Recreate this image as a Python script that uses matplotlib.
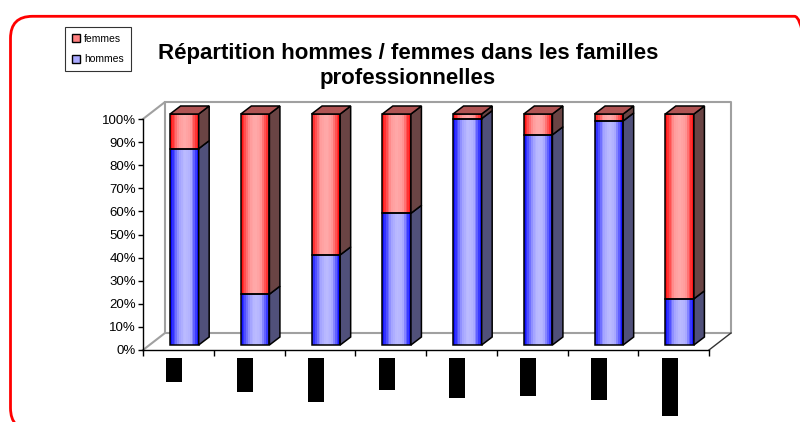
import matplotlib
matplotlib.use("Agg")
import matplotlib.pyplot as plt
import numpy as np
from matplotlib.patches import Polygon, Patch, FancyBboxPatch
from matplotlib.colors import LinearSegmentedColormap
from matplotlib.transforms import IdentityTransform, blended_transform_factory

plt.rcParams["font.family"] = ["Liberation Sans", "DejaVu Sans"]

# data (percent per professional family, labels are blacked out in the source)
hommes = [85, 22, 39, 57, 98, 91, 97, 20]
femmes = [15, 78, 61, 43, 2, 9, 3, 80]
label_px = [24, 34, 44, 32, 40, 38, 42, 58]  # length of the hidden labels
yticks = [0, 10, 20, 30, 40, 50, 60, 70, 80, 90, 100]
title_1 = "Répartition hommes / femmes dans les familles"
title_2 = "professionnelles"

W, H = 800, 422
fig = plt.figure(figsize=(W / 100, H / 100), dpi=100)

ax_l, ax_b, ax_w, ax_h = 143, 350, 566, 231  # pixels (bottom from top)
ax = fig.add_axes([ax_l / W, (H - ax_b) / H, ax_w / W, ax_h / H])
n = len(hommes)
ax.set_xlim(0, n)
ax.set_ylim(0, 1)

px = n / ax_w   # one pixel in x data units
py = 1 / ax_h   # one pixel in y data units

# 3D box: walls and floor
wall_dx, wall_dy = 22 * px, 17 * py
gray = "#a0a0a0"
ax.plot([0, wall_dx, wall_dx, n + wall_dx, n + wall_dx, wall_dx],
        [1, 1 + wall_dy, wall_dy, wall_dy, 1 + wall_dy, 1 + wall_dy],
        color=gray, lw=1.5, clip_on=False, zorder=0)
ax.plot([0, wall_dx], [0, wall_dy], color=gray, lw=1.5, clip_on=False, zorder=0)
ax.plot([n, n + wall_dx], [0, wall_dy], color="#333333", lw=1, clip_on=False, zorder=0)

# bar geometry
bar_w = 28.6 * px
off_x, off_y = 6 * px, 5 * py
dep_x, dep_y = 10.5 * px, 8 * py
n_strips = 16

blue_cmap = LinearSegmentedColormap.from_list(
    "b", [(0, "#1414ff"), (0.12, "#4a4aff"), (0.3, "#a0a0ff"), (0.5, "#bcbcff"),
          (0.72, "#b0b0ff"), (0.86, "#6464ff"), (1, "#1414ff")])
red_cmap = LinearSegmentedColormap.from_list(
    "r", [(0, "#ff1414"), (0.12, "#ff4a4a"), (0.3, "#ff9a9a"), (0.5, "#ffaaaa"),
          (0.72, "#ff9a9a"), (0.86, "#ff5555"), (1, "#ff1414")])

series = [(hommes, blue_cmap, "#50507a"), (femmes, red_cmap, "#6a4444")]

for i in range(n):
    x0 = i + 0.5 - bar_w / 2 + off_x
    x1 = x0 + bar_w
    bottom = 0.0
    for vals, cmap, side_col in series:
        h = vals[i] / 100
        y0 = bottom + off_y
        y1 = y0 + h
        sw = bar_w / n_strips
        xs = x0 + sw * (np.arange(n_strips) + 0.5)
        cols = [cmap(k / (n_strips - 1)) for k in range(n_strips)]
        ax.bar(xs, h, width=sw * 1.02, bottom=y0, color=cols, lw=0,
               clip_on=False, zorder=3)
        ax.bar(x0 + bar_w / 2, h, width=bar_w, bottom=y0, fill=False,
               edgecolor="black", lw=1.1, clip_on=False, zorder=4)
        ax.add_patch(Polygon([(x1, y0), (x1 + dep_x, y0 + dep_y),
                              (x1 + dep_x, y1 + dep_y), (x1, y1)],
                             closed=True, facecolor=side_col, edgecolor="black",
                             lw=1.1, clip_on=False, zorder=4))
        bottom += h
    # top face
    yt = bottom + off_y
    ax.add_patch(Polygon([(x0, yt), (x0 + dep_x, yt + dep_y),
                          (x1 + dep_x, yt + dep_y), (x1, yt)],
                         closed=True, facecolor="#b05454", edgecolor="black",
                         lw=1.1, clip_on=False, zorder=4))

# hidden (blacked-out) category labels
lab_trans = blended_transform_factory(ax.transData, fig.transFigure)
for i, L in enumerate(label_px):
    top = 358
    ax.bar(i + 0.5 - 4 * px, -L / H, width=16 * px, bottom=(H - top) / H,
           color="black", transform=lab_trans, clip_on=False, zorder=5)

# axes styling
for s in ["top", "right"]:
    ax.spines[s].set_visible(False)
ax.spines["left"].set_linewidth(1)
ax.spines["bottom"].set_linewidth(1)
ax.set_facecolor("none")
ax.set_xticks(np.arange(n + 1))
ax.set_xticklabels([])
ax.tick_params(axis="x", length=4, width=1, direction="out")
ax.set_yticks(np.array(yticks) / 100)
ax.set_yticklabels([f"{t}%" for t in yticks], fontsize=9.5)
ax.tick_params(axis="y", length=3.5, width=1, pad=1.5)

# title
fig.text(408 / W, (H - 58.5) / H, title_1, ha="center", va="baseline",
         fontsize=16, fontweight="bold")
fig.text(408 / W, (H - 84) / H, title_2, ha="center", va="baseline",
         fontsize=16, fontweight="bold")

# legend
handles = [Patch(facecolor="#ff8080", edgecolor="black", lw=1, label="femmes"),
           Patch(facecolor="#aaaaff", edgecolor="black", lw=1, label="hommes")]
leg = fig.legend(handles=handles, loc="upper left",
                 bbox_to_anchor=(65 / W, 1 - 27 / H), fontsize=7.5,
                 frameon=True, fancybox=False, edgecolor="black",
                 handlelength=0.8, handleheight=0.8, handletextpad=0.4,
                 labelspacing=1.0, borderpad=0.65, borderaxespad=0)
leg.get_frame().set_linewidth(0.8)

# red rounded frame
frame = FancyBboxPatch((10.5, -8), 806, H - 16.3 + 8,
                       boxstyle="round,pad=0,rounding_size=22",
                       transform=IdentityTransform(), facecolor="none",
                       edgecolor="#ff0000", lw=2.0, clip_on=False)
fig.patches.append(frame)

fig.savefig("out.png", dpi=100)
